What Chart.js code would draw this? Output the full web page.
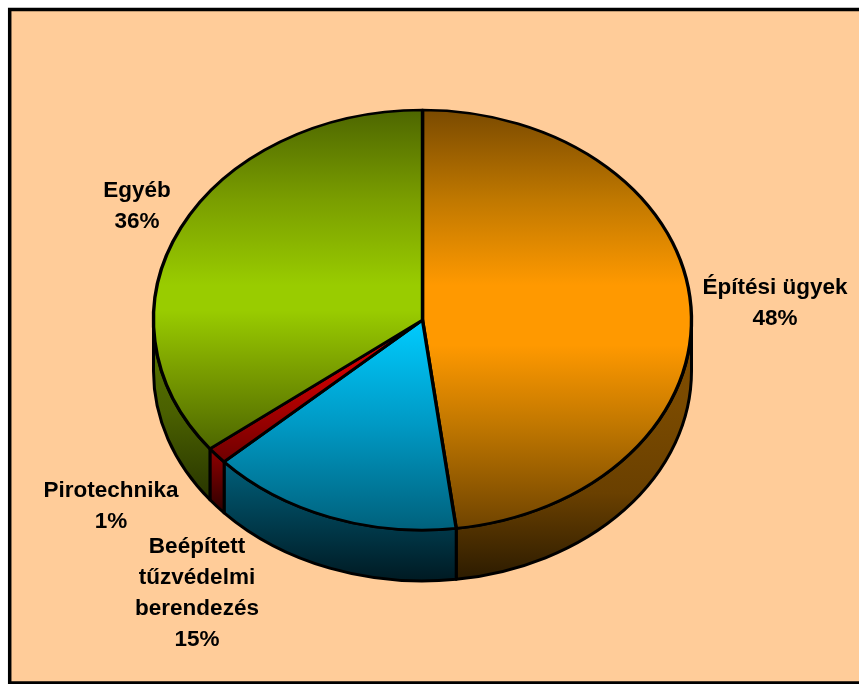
<!DOCTYPE html>
<html><head><meta charset="utf-8">
<style>html,body{margin:0;padding:0;background:#fff}#w{position:absolute;left:0;top:0;width:859px;height:684px}canvas{display:block}</style>
<script src="https://cdn.jsdelivr.net/npm/chart.js@4"></script></head>
<body><div id="w"><canvas id="c" width="859" height="684"></canvas></div>
<script>
const categories = ["Építési ügyek", "Beépített tűzvédelmi berendezés", "Pirotechnika", "Egyéb"];
const shownPercents = ["48%", "15%", "1%", "36%"];
const sliceValues = [48, 15.2, 1.3, 35.5];
const labelLines = [["Építési ügyek"],["Beépített","tűzvédelmi","berendezés"],["Pirotechnika"],["Egyéb"]];
const labelAnchors = [[775,288],[197,547],[111,491],[137,191]];

const topStops = [
  [[0,"#7a4a00"],[.214,"#c07800"],[.417,"#ff9900"],[.56,"#ff9900"],[.762,"#bd7500"],[1,"#6e4300"]],
  [[0,"#00ccff"],[.5,"#0099c4"],[1,"#00617c"]],
  [[0,"#cc0000"],[1,"#700000"]],
  [[0,"#4d6600"],[.265,"#7a9e00"],[.515,"#99cc00"],[.59,"#99cc00"],[.765,"#7a9e00"],[1,"#4d6600"]]];
const sideStops = [
  [[0,"#7f4c00"],[.33,"#7a4a00"],[.66,"#6a4000"],[1,"#2a1a00"]],
  [[0,"#00617c"],[.5,"#003c4e"],[1,"#001820"]],
  [[0,"#900000"],[1,"#300000"]],
  [[0,"#5c7a00"],[.5,"#4a6000"],[1,"#263200"]]];
const topRange=[[110,530],[320,530],[370,460],[110,450]];
const sideRange=[[320,582],[460,584],[450,510],[320,505]];

const CX=422.5, CY=320, RX=269, RY=210, DEPTH=51;
const SY=RY/RX;
function vgrad(ctx,stops,y0,y1){const g=ctx.createLinearGradient(0,y0,0,y1);stops.forEach(s=>g.addColorStop(s[0],s[1]));return g;}

function sideDraw(ctx,a,i){
  const x=a.x,y=a.y,R=a.outerRadius;
  const f=Math.max(a.startAngle,0), t=Math.min(a.endAngle,Math.PI);
  if(f>=t) return;
  ctx.beginPath();
  ctx.ellipse(x,y,R,R*SY,0,f,t,false);
  ctx.lineTo(x+R*Math.cos(t),y+R*SY*Math.sin(t)+DEPTH);
  ctx.ellipse(x,y+DEPTH,R,R*SY,0,t,f,true);
  ctx.closePath();
  ctx.fillStyle=vgrad(ctx,sideStops[i],sideRange[i][0],sideRange[i][1]);
  ctx.fill();ctx.stroke();
}

const squash={id:'squash',
  beforeDatasetsDraw(chart){
    const ctx=chart.ctx, meta=chart.getDatasetMeta(0);
    ctx.save();
    ctx.lineWidth=3;ctx.strokeStyle='#000';ctx.lineJoin='round';
    meta.data.forEach((a,i)=>sideDraw(ctx,a,i));
    ctx.restore();
    const cx=meta.data[0].x, cy=meta.data[0].y;
    ctx.save();
    ctx.translate(cx,cy);ctx.scale(1,SY);ctx.translate(-cx,-cy);
  },
  afterDatasetsDraw(chart){
    const ctx=chart.ctx;
    ctx.restore();
    ctx.save();
    ctx.fillStyle='#000';ctx.font='bold 22.5px "Liberation Sans", Arial, sans-serif';
    ctx.textAlign='center';ctx.textBaseline='middle';
    labelLines.forEach((ls,i)=>{
      [...ls,shownPercents[i]].forEach((t,j)=>ctx.fillText(t,labelAnchors[i][0],labelAnchors[i][1]+j*31));
    });
    ctx.restore();
  }};

new Chart(document.getElementById('c'),{
  type:'pie',
  data:{labels:categories,datasets:[{data:sliceValues,
    backgroundColor(c){const i=c.dataIndex;
      const h=(topRange[i][1]-CY)/SY+CY,l=(topRange[i][0]-CY)/SY+CY;
      return vgrad(c.chart.ctx,topStops[i],l,h);},
    borderColor:'#000',borderWidth:3.4,borderAlign:'center',borderJoinStyle:'round'}]},
  options:{responsive:false,animation:false,layout:{padding:0},rotation:0,radius:RX,
    plugins:{legend:{display:false},tooltip:{enabled:false},title:{display:false}}},
  plugins:[{id:'bg',beforeDraw(chart){const ctx=chart.ctx;ctx.save();ctx.fillStyle='#ffcc99';ctx.fillRect(0,0,859,684);
      ctx.fillStyle='#fff';ctx.fillRect(0,0,859,8);ctx.fillRect(0,0,8,684);
      ctx.strokeStyle='#000';ctx.lineWidth=3.5;ctx.strokeRect(9.7,9.5,853,673.5);ctx.restore();}},
     {id:'place',afterLayout(chart){const a=chart.chartArea;a.left=CX-RX;a.right=CX+RX;a.top=CY-RX;a.bottom=CY+RX;a.width=RX*2;a.height=RX*2;}},
     squash]
});
</script></body></html>
